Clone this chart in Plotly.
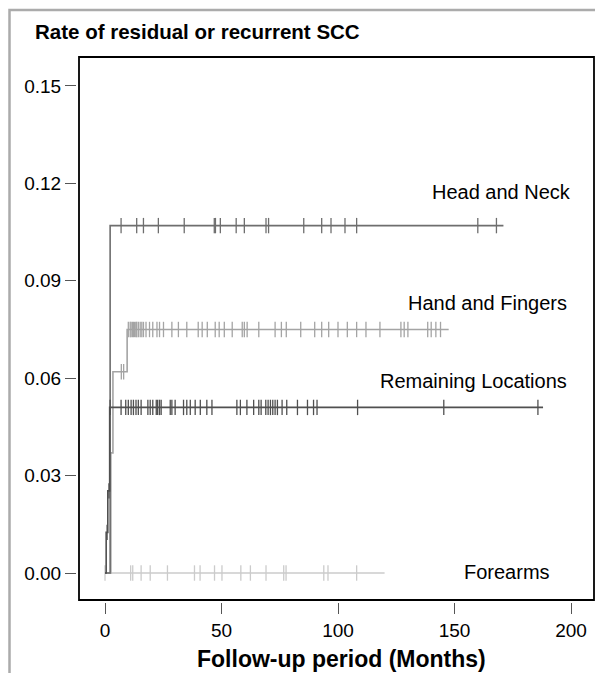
import plotly.graph_objects as go

# ---------------- data ----------------
series_names = ["Head and Neck", "Hand and Fingers", "Remaining Locations", "Forearms"]

# step (event) times and cumulative rate after each step
head_step_t = [0, 2.2]
head_step_y = [0.0, 0.107]
head_end_t = 171
head_censor_t = [6.9, 13.6, 16.5, 22.9, 34, 46.9, 47.4, 49.5, 56.3, 59.8, 69.1, 70.2,
                 85.3, 93, 97, 103, 108, 160, 168]

hand_step_t = [0, 2.5, 3.4, 9.5]
hand_step_y = [0.0, 0.037, 0.062, 0.075]
hand_end_t = 147.5
hand_censor_t = [7.0, 8.0,
                 10, 10.8, 11.2, 11.8, 12.2, 12.6, 13.2, 13.6, 14.3, 15.1, 15.8, 16.5, 17.6,
                 19.1, 20.5, 22.3, 23.4, 25.1, 28.7, 31.5, 35.1, 40.0, 41.7, 43.9, 47.3, 49.0,
                 51.2, 54.6, 58.9, 59.8, 61.0, 66.0, 73.0, 75.7, 77.8, 84.0, 90, 93, 96, 100,
                 104, 108, 112, 118, 127, 128.4, 130, 138.5, 140, 142, 144]

rem_step_t = [0, 0.5, 1.2, 2.0]
rem_step_y = [0.0, 0.0125, 0.0253, 0.051]
rem_end_t = 188
rem_censor_t = [0.9, 1.7,
                2.2, 6.9, 8.9, 10, 11.2, 12.2, 13.3, 14.3, 15.5, 18.4, 19.4, 20.5, 22, 22.6,
                23.4, 24.1, 28, 28.7, 30.1, 33.7, 35.1, 36.6, 38.7, 40.9, 43.7, 45.9, 56.6,
                58.1, 60.9, 63.8, 66, 67, 69, 70, 71, 72, 73, 74, 76, 78, 82.6, 86.9, 89.5,
                91, 108.4, 145.4, 185.8]

fore_step_t = [0]
fore_step_y = [0.0]
fore_end_t = 120
fore_censor_t = [0, 11, 11.9, 15.5, 19.4, 26.8, 38.4, 40.8, 47, 50.2, 58.3, 62.4, 69.1,
                 76.7, 77.7, 93.9, 95.7, 108]

x_ticks = [0, 50, 100, 150, 200]
y_ticks = [0.00, 0.03, 0.06, 0.09, 0.12, 0.15]

# ---------------- styles ----------------
colors = {"Head and Neck": "#6e6e6e", "Hand and Fingers": "#a4a4a4",
          "Remaining Locations": "#505050", "Forearms": "#cbcbcb"}

FONT = "Liberation Sans, Arial, Helvetica, sans-serif"


def level_at(t, st, sy):
    y = sy[0]
    for ti, yi in zip(st, sy):
        if t >= ti:
            y = yi
    return y


fig = go.Figure()

groups = [
    ("Forearms", fore_step_t, fore_step_y, fore_end_t, fore_censor_t),
    ("Hand and Fingers", hand_step_t, hand_step_y, hand_end_t, hand_censor_t),
    ("Head and Neck", head_step_t, head_step_y, head_end_t, head_censor_t),
    ("Remaining Locations", rem_step_t, rem_step_y, rem_end_t, rem_censor_t),
]

for name, st, sy, end_t, ct in groups:
    xs = list(st) + [end_t]
    ys = list(sy) + [sy[-1]]
    col = colors[name]
    fig.add_trace(go.Scatter(x=xs, y=ys, mode="lines", line=dict(color=col, width=1.6, shape="hv"),
                             showlegend=False, hoverinfo="skip", cliponaxis=False))
    fig.add_trace(go.Scatter(x=ct, y=[level_at(t, st, sy) for t in ct], mode="markers",
                             marker=dict(symbol="line-ns", size=11, line=dict(color=col, width=1.3)),
                             showlegend=False, hoverinfo="skip", cliponaxis=False))

# label anchor positions (data units)
label_pos = {"Head and Neck": (200.9, 0.1173), "Hand and Fingers": (199.1, 0.0832),
             "Remaining Locations": (199.0, 0.0591), "Forearms": (191.8, 0.0003)}
for name in series_names:
    x, y = label_pos[name]
    fig.add_annotation(x=x, y=y, xref="x", yref="y", text=name, showarrow=False,
                       xanchor="right", yanchor="middle", font=dict(family=FONT, size=20, color="black"))

# page body has an 8px margin, so the figure is 595 x 665
W, H = 595, 665
L, R, T, B = 69, 9, 49, 71
pw, ph = W - L - R, H - T - B

# plot frame (slightly inset so the ticks appear detached)
fig.add_shape(type="rect", xref="paper", yref="paper", x0=2 / pw, x1=1, y0=2 / ph, y1=1,
              line=dict(color="black", width=1.8), layer="above")
# outer grey border
bx0, bx1 = (1.5 - L) / pw, (593 - L) / pw
by_top, by_bot = (H - B - 2) / ph, (H - B - 680) / ph
fig.add_shape(type="path", xref="paper", yref="paper",
              path=f"M {bx0} {by_bot} L {bx0} {by_top} L {bx1} {by_top} L {bx1} {by_bot}",
              line=dict(color="#ababab", width=2.5))

# x-axis title
fig.add_annotation(x=(333 - L) / pw, y=(H - B - 651) / ph, xref="paper", yref="paper",
                   text="<b>Follow-up period (Months)</b>", showarrow=False,
                   xanchor="center", yanchor="middle", font=dict(family=FONT, size=23, color="black"))

fig.update_layout(
    width=W, height=H, margin=dict(l=L, r=R, t=T, b=B, autoexpand=False),
    paper_bgcolor="white", plot_bgcolor="white",
    font=dict(family=FONT, size=19, color="black"),
    title=dict(text="<b>Rate of residual or recurrent SCC</b>", x=27 / W, xref="container",
               xanchor="left", y=1 - 24 / H, yref="container", yanchor="middle",
               font=dict(family=FONT, size=20.5, color="black")),
    xaxis=dict(range=[-12.02, 209.87], tickvals=x_ticks, ticktext=[str(v) for v in x_ticks],
               ticks="outside", ticklen=11, tickwidth=1.3, tickcolor="#555",
               showline=False, showgrid=False, zeroline=False,
               tickfont=dict(family=FONT, size=19, color="black")),
    yaxis=dict(range=[-0.00893, 0.15893], tickvals=y_ticks, ticktext=[f"{v:.2f}" for v in y_ticks],
               ticks="outside", ticklen=11, tickwidth=1.3, tickcolor="#555",
               showline=False, showgrid=False, zeroline=False,
               tickfont=dict(family=FONT, size=19, color="black")),
)

fig.write_html("out.html")
